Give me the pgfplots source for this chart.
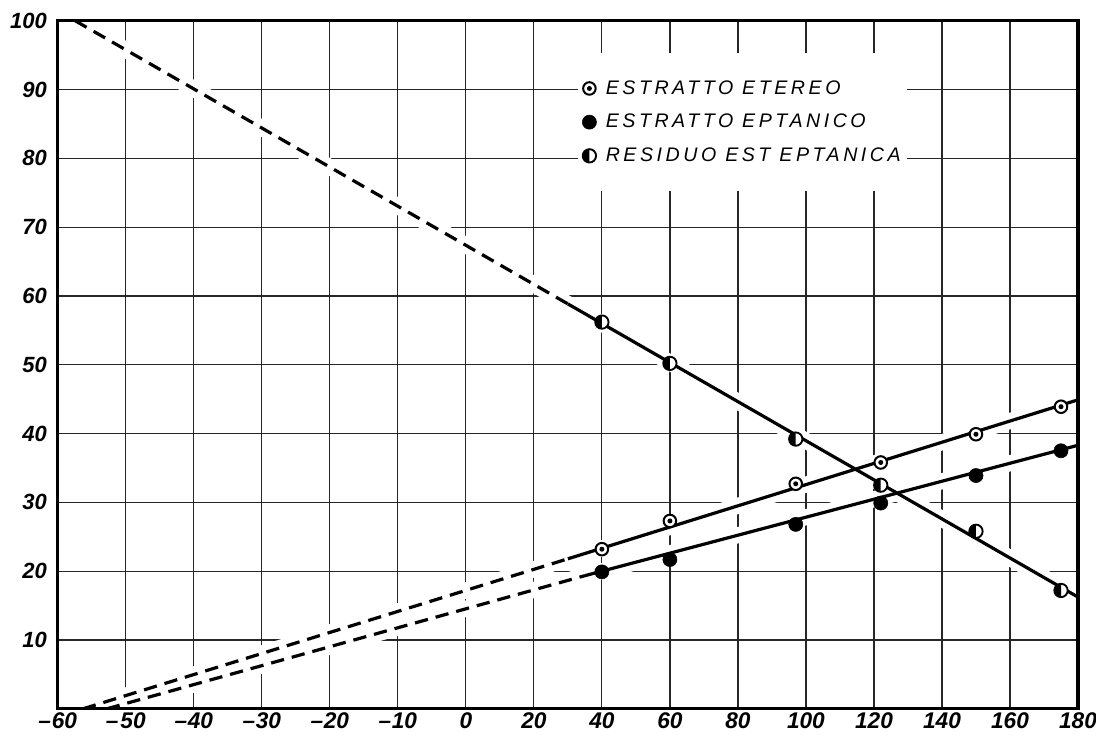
\documentclass[border=0pt]{standalone}
\usepackage{fontspec}
\setmainfont{Liberation Sans}
\usepackage{pgfplots}
\pgfplotsset{compat=1.18}
\usepackage{pgfplotstable}

\pgfdeclareplotmark{dotcircle}{%
  \pgfpathcircle{\pgfpointorigin}{\pgfplotmarksize}%
  \pgfsetfillcolor{white}%
  \pgfusepathqfillstroke
  \pgfpathcircle{\pgfpointorigin}{0.4\pgfplotmarksize}%
  \pgfsetfillcolor{black}%
  \pgfusepathqfill
}
\pgfdeclareplotmark{halfleft}{%
  \pgfpathcircle{\pgfpointorigin}{\pgfplotmarksize}%
  \pgfsetfillcolor{white}%
  \pgfusepathqfill
  \pgfpathmoveto{\pgfqpoint{0pt}{\pgfplotmarksize}}%
  \pgfpatharc{90}{270}{\pgfplotmarksize}%
  \pgfpathclose
  \pgfsetfillcolor{black}%
  \pgfusepathqfill
  \pgfpathcircle{\pgfpointorigin}{\pgfplotmarksize}%
  \pgfusepathqstroke
}

% measured points (x in deg, y in %)
\pgfplotstableread{
x y
40 23.2
60 27.3
97 32.7
122 35.8
150 39.9
175 43.9
}\etereo
\pgfplotstableread{
x y
40 19.9
60 21.7
97 26.8
122 29.9
150 33.9
175 37.5
}\eptanico
\pgfplotstableread{
x y
40 56.2
60 50.2
97 39.2
122 32.5
150 25.8
175 17.2
}\residuo
% fitted lines
\pgfplotstableread{
x y
30 21.8
180 44.9
}\etereoline
\pgfplotstableread{
x y
-56.3 0
30 21.8
}\etereodash
\pgfplotstableread{
x y
35 19.35
180 38.3
}\eptanicoline
\pgfplotstableread{
x y
-52.8 0
35 19.35
}\eptanicodash
\pgfplotstableread{
x y
30 58.84
180 16.24
}\residuoline
\pgfplotstableread{
x y
-57.46 100
30 58.84
}\residuodash

% the x axis is broken: 10 per cell below 0, 20 per cell above 0
\def\XP{\thisrow{x}<0 ? 6+\thisrow{x}/10 : 6+\thisrow{x}/20}

\begin{document}
\begin{tikzpicture}
\begin{axis}[
  scale only axis, width=765pt, height=516pt,
  xmin=0, xmax=15, ymin=0, ymax=100,
  xtick={0,...,15},
  xticklabels={\textendash\kern0.5pt60,\textendash\kern1.5pt50,\textendash\kern0.5pt40,\textendash\kern0.5pt30,\textendash\kern0.5pt20,\textendash\kern0.5pt10,0,20,40,60,80,100,120,140,160,180},
  ytick={10,20,...,100},
  yticklabels={10,20,30,40,50,60,70,80,90,100},
  grid=major,
  major grid style={black!85, line width=0.9pt},
  major tick length=0pt,
  axis line style={line width=2.4pt},
  xticklabel style={font=\fontsize{17}{20}\selectfont\bfseries\itshape, inner sep=0pt, anchor=north, yshift=-2.5pt},
  yticklabel style={font=\fontsize{16.5}{19}\selectfont\bfseries\itshape, inner sep=0pt, anchor=east, xshift=-8pt},
  legend cell align=left,
  legend style={at={(rel axis cs:0.51,0.953)}, anchor=north west, fill=white, draw=none,
    inner xsep=3pt, inner ysep=18.5pt, row sep=9.5pt,
    font=\fontsize{14.7}{17}\selectfont\itshape\addfontfeatures{LetterSpace=18},
    /tikz/every odd column/.append style={column sep=5pt}},
]
% white halos (gaps in the grid around the lines)
\addplot[white, line width=12pt, forget plot] table[x expr={\XP}, y=y] {\etereodash};
\addplot[white, line width=12pt, forget plot] table[x expr={\XP}, y=y] {\etereoline};
\addplot[white, line width=12pt, forget plot] table[x expr={\XP}, y=y] {\eptanicodash};
\addplot[white, line width=12pt, forget plot] table[x expr={\XP}, y=y] {\eptanicoline};
\addplot[white, line width=12pt, forget plot] table[x expr={\XP}, y=y] {\residuodash};
\addplot[white, line width=12pt, forget plot] table[x expr={\XP}, y=y] {\residuoline};
% lines
\addplot[black, line width=2.4pt, dash pattern=on 10pt off 6pt, forget plot] table[x expr={\XP}, y=y] {\etereodash};
\addplot[black, line width=2.4pt, forget plot] table[x expr={\XP}, y=y] {\etereoline};
\addplot[black, line width=2.4pt, dash pattern=on 10pt off 6pt, forget plot] table[x expr={\XP}, y=y] {\eptanicodash};
\addplot[black, line width=2.4pt, forget plot] table[x expr={\XP}, y=y] {\eptanicoline};
\addplot[black, line width=2.4pt, dash pattern=on 10pt off 6pt, forget plot] table[x expr={\XP}, y=y] {\residuodash};
\addplot[black, line width=2.4pt, forget plot] table[x expr={\XP}, y=y] {\residuoline};
% points
\addplot[only marks, mark=dotcircle, mark size=4.7pt, line width=1.5pt, forget plot] table[x expr={\XP}, y=y] {\etereo};
\addplot[only marks, mark=*, mark size=5.3pt, mark options={fill=black, draw=black}, forget plot] table[x expr={\XP}, y=y] {\eptanico};
\addplot[only marks, mark=halfleft, mark size=5pt, line width=1.4pt, forget plot] table[x expr={\XP}, y=y] {\residuo};
% legend
\addlegendimage{only marks, mark=dotcircle, mark size=4.7pt, line width=1.5pt}
\addlegendentry{ESTRATTO ETEREO}
\addlegendimage{only marks, mark=*, mark size=5.3pt, mark options={fill=black, draw=black}}
\addlegendentry{ESTRATTO EPTANICO}
\addlegendimage{only marks, mark=halfleft, mark size=5pt, line width=1.4pt}
\addlegendentry{RESIDUO EST EPTANICA}
\end{axis}
\draw[line width=2.4pt] (current axis.south west) rectangle (current axis.north east);
\pgfresetboundingbox
\path[use as bounding box] ([shift={(-43.3pt,-19pt)}]current axis.south west) rectangle ([shift={(13.5pt,15.5pt)}]current axis.north east);
\end{tikzpicture}
\end{document}
